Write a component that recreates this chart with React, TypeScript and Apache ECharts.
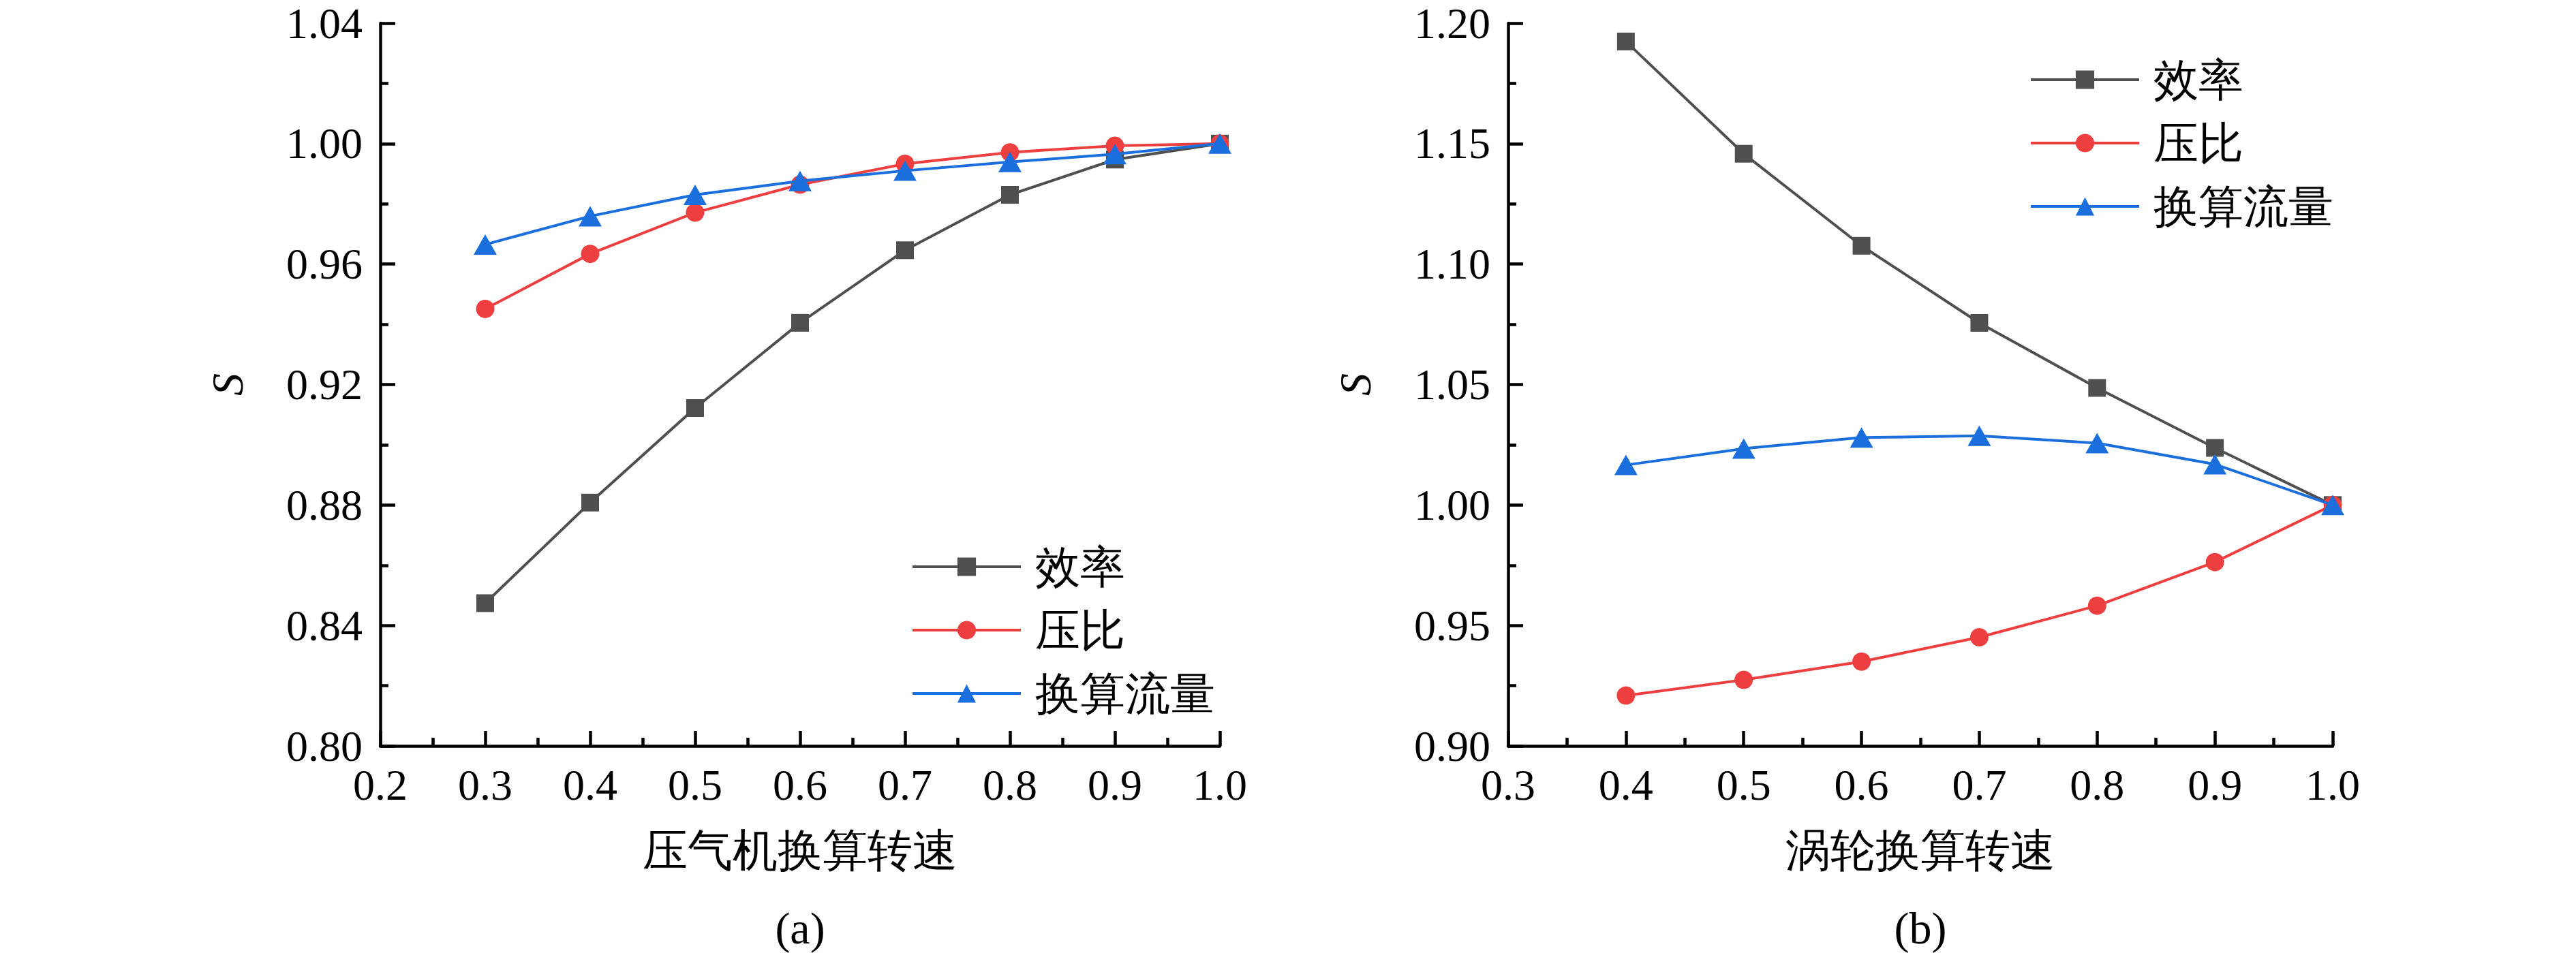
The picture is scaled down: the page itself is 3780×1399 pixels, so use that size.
import React, { useEffect, useRef } from "react";
import * as echarts from "echarts";

const seriesNames = ["效率", "压比", "换算流量"];
const colors = ["#4f4f4f", "#ee3f40", "#1b6fdc"];
const symbols = ["rect", "circle", "triangle"];

const xCompressor = [0.3, 0.4, 0.5, 0.6, 0.7, 0.8, 0.9, 1.0];
const compEfficiency = [0.8474, 0.8808, 0.9122, 0.9405, 0.9646, 0.983, 0.9947, 1.0];
const compPressure = [0.9451, 0.9634, 0.9771, 0.9864, 0.9933, 0.9971, 0.9993, 1.0];
const compFlow = [0.9665, 0.9759, 0.983, 0.9876, 0.991, 0.9939, 0.9965, 1.0];

const xTurbine = [0.4, 0.5, 0.6, 0.7, 0.8, 0.9, 1.0];
const turbEfficiency = [1.1924, 1.1458, 1.1076, 1.0756, 1.0486, 1.0237, 1.0];
const turbPressure = [0.9209, 0.9274, 0.935, 0.9451, 0.9582, 0.9763, 1.0];
const turbFlow = [1.0166, 1.0234, 1.028, 1.0287, 1.0257, 1.0169, 1.0];

const xNameA = "压气机换算转速";
const xNameB = "涡轮换算转速";
const yName = "S";
const panelA = "(a)";
const panelB = "(b)";

const FONT = "Liberation Serif, Times New Roman, serif";

export default function App() {
  const ref = useRef<HTMLDivElement>(null);
  useEffect(() => {
    if (!ref.current) return;
    const chart = echarts.init(ref.current, undefined, { renderer: "svg" });

    const axisLine = { show: true, lineStyle: { color: "#000", width: 4.5 } };
    const axisTick = { show: true, inside: true, length: 22, lineStyle: { color: "#000", width: 4.5 } };
    const minorTick = { show: true, splitNumber: 2, length: 12, lineStyle: { color: "#000", width: 4.5 } };

    const mkX = (idx: number, min: number, name: string) => ({
      type: "value",
      gridIndex: idx,
      min,
      max: 1.0,
      interval: 0.1,
      name,
      nameLocation: "middle",
      nameGap: 120,
      nameTextStyle: { color: "#000", fontSize: 66, fontFamily: FONT },
      axisLine,
      axisTick,
      minorTick,
      splitLine: { show: false },
      axisLabel: { color: "#000", fontSize: 64, fontFamily: FONT, lineHeight: 54, margin: 30, formatter: (v: number) => v.toFixed(1) },
    });
    const mkY = (idx: number, min: number, max: number, interval: number) => ({
      type: "value",
      gridIndex: idx,
      min,
      max,
      interval,
      name: yName,
      nameLocation: "middle",
      nameGap: 192,
      nameRotate: 90,
      nameTextStyle: { color: "#000", fontSize: 66, fontFamily: FONT, fontStyle: "italic" },
      axisLine,
      axisTick,
      minorTick,
      splitLine: { show: false },
      axisLabel: { color: "#000", fontSize: 64, fontFamily: FONT, lineHeight: 54, margin: 26, formatter: (v: number) => v.toFixed(2) },
    });

    const groups = [
      [compEfficiency, compPressure, compFlow],
      [turbEfficiency, turbPressure, turbFlow],
    ];
    const xs = [xCompressor, xTurbine];
    const series: any[] = [];
    groups.forEach((g, gi) => {
      g.forEach((vals, si) => {
        series.push({
          type: "line",
          name: seriesNames[si],
          xAxisIndex: gi,
          yAxisIndex: gi,
          data: vals.map((v, i) => [xs[gi][i], v]),
          symbol: symbols[si],
          symbolSize: si === 0 ? 26 : si === 1 ? 27 : [34, 30],
          showSymbol: true,
          lineStyle: { color: colors[si], width: 4 },
          itemStyle: { color: colors[si] },
          z: 2 + si,
        });
      });
    });

    const legendBase = {
      orient: "vertical",
      itemWidth: 159,
      itemHeight: 34,
      itemGap: 27,
      selectedMode: false,
      lineStyle: { width: 4 },
      textStyle: { color: "#000", fontSize: 66, fontFamily: FONT, lineHeight: 66, padding: [0, 0, 0, 16] },
      data: seriesNames,
    };

    chart.setOption({
      animation: false,
      backgroundColor: "#fff",
      grid: [
        { left: 558, top: 34, width: 1232, height: 1061 },
        { left: 2213, top: 34, width: 1210, height: 1061 },
      ],
      xAxis: [mkX(0, 0.2, xNameA), mkX(1, 0.3, xNameB)],
      yAxis: [mkY(0, 0.8, 1.04, 0.04), mkY(1, 0.9, 1.2, 0.05)],
      legend: [
        { ...legendBase, left: 1332, top: 794 },
        { ...legendBase, left: 2973, top: 79 },
      ],
      graphic: [
        {
          type: "text",
          x: 1174,
          y: 1362,
          style: { text: panelA, fill: "#000", fontSize: 66, fontFamily: FONT, textAlign: "center", textVerticalAlign: "middle" },
        },
        {
          type: "text",
          x: 2818,
          y: 1362,
          style: { text: panelB, fill: "#000", fontSize: 66, fontFamily: FONT, textAlign: "center", textVerticalAlign: "middle" },
        },
      ],
      series,
    });
    return () => chart.dispose();
  }, []);
  return (
    <div
      ref={ref}
      style={{ position: "fixed", left: 0, top: 0, width: "3780px", height: "1399px", background: "#fff" }}
    />
  );
}
